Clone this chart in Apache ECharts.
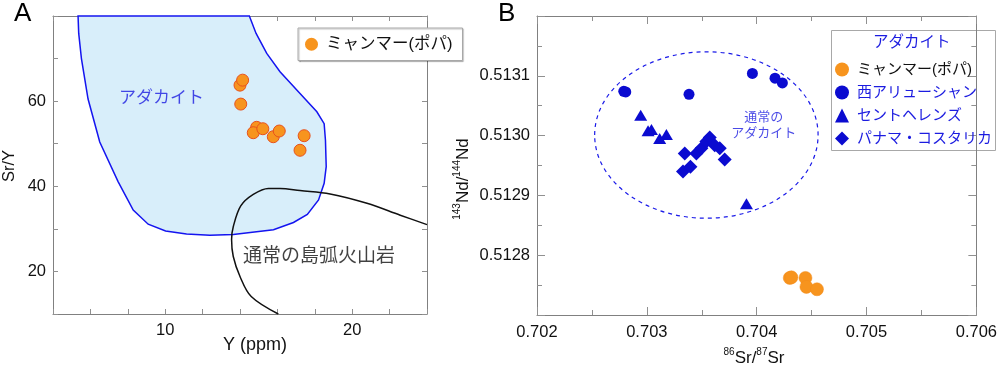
<!DOCTYPE html>
<html>
<head>
<meta charset="utf-8">
<script src="https://cdn.jsdelivr.net/npm/echarts@6/dist/echarts.min.js"></script>
<style>
html,body{margin:0;padding:0;background:#fff;}
#b{position:absolute;left:440px;top:0;width:560px;height:368px;}
#a{position:absolute;left:0;top:0;width:472px;height:368px;}
</style>
</head>
<body>
<div id="b"></div>
<div id="a"></div>
<script>
// ---------- Panel A data ----------
const adakiteFieldY   = [5.34,14.5,14.86,15.43,16.14,17.21,18.11,18.5,18.57,18.61,18.5,18.2,17.6,16.86,15.79,13.64,12.39,11.14,10.02,9.09,8.29,7.48,6.5,5.875,5.52,5.375];
const adakiteFieldSrY = [80,80,75.9,71.2,66.9,61.8,57.5,54.7,50.8,44.6,40.7,36.8,33.4,31.5,29.8,28.7,28.5,28.8,29.5,31.1,34.4,41.1,50.4,60.5,70,75.9];
const arcCurveY   = [16.05,14.6,14.0,13.64,13.55,13.64,14.04,14.71,15.52,16.14,17.21,18.82,20.79,22.57,24];
const arcCurveSrY = [10,14.1,18.8,23.5,27.5,30.5,35.4,38.1,39.5,39.5,39.0,38.2,36.0,33.2,31];
const myanmarY   = [14.0,14.14,14.04,14.89,14.71,15.22,15.78,16.1,17.43,17.21];
const myanmarSrY = [63.76,64.93,59.31,53.85,52.58,53.52,51.64,52.98,51.88,48.46];
const ticksA_x = [10,20];
const ticksA_y = [20,40,60];
const labelsA = [
  {text:'アダカイト', x:9.8, y:60.7, color:'#1c1ce0', size:17},
  {text:'通常の島弧火山岩', x:18.23, y:23.45, color:'#111', size:19}
];

// ---------- Panel B data ----------
const myanmarSr = [0.704301,0.704316,0.704444,0.704453,0.704549];
const myanmarNd = [0.512762,0.512763,0.512762,0.512747,0.512743];
const aleutSr = [0.70279,0.702808,0.703384,0.703961,0.704167,0.704234];
const aleutNd = [0.513074,0.513073,0.513069,0.513104,0.513096,0.513088];
const helensSr = [0.702944,0.703011,0.703042,0.703117,0.703178,0.703907];
const helensNd = [0.513034,0.513008,0.51301,0.512995,0.513002,0.512886];
const panamaSr = [0.703345,0.703329,0.703397,0.703451,0.703497,0.703542,0.703573,0.703618,0.703664,0.703709];
const panamaNd = [0.51297,0.51294,0.512948,0.51297,0.512979,0.51299,0.512997,0.512984,0.512979,0.51296];
const ellipseCenter = [0.703542, 0.513001];
const ellipseRadii  = [0.001017, 0.0001391];
const labelsB = [{text:'通常の\nアダカイト', x:0.704064, y:0.5130175}];

const FONT = "'Liberation Sans', Arimo, 'Noto Sans CJK JP', sans-serif";
const BLUE = '#0b0bd0';
const TBLUE = '#1c1ce0';
const ORANGE = '#f7941e';
const zip = (a,b) => a.map((v,i)=>[v,b[i]]);

function frameAxes(opts){
  const base = {
    type:'value', min:opts.min, max:opts.max, interval:opts.interval,
    splitLine:{show:false},
    axisLine:{show:true, onZero:false, lineStyle:{color:'#808080', width:1}},
    axisTick:{show:true, inside:true, length:opts.tickLen, lineStyle:{color:'#909090'}},
    minorTick: opts.minor ? {show:true, splitNumber:2, length:5, lineStyle:{color:'#909090'}} : {show:false},
    axisLabel:{show:true, fontFamily:FONT, fontSize:16.5, color:'#111', margin:opts.margin, formatter:opts.formatter}
  };
  const sec = JSON.parse(JSON.stringify(base));
  sec.axisLabel = {show:false};
  sec.position = opts.secPos;
  base.position = opts.pos;
  return [base, sec];
}

// ---------- Chart A ----------
const chartA = echarts.init(document.getElementById('a'), null, {renderer:'canvas'});
chartA.setOption({
  animation:false,
  textStyle:{fontFamily:FONT},
  grid:{left:53, top:16, width:374, height:298},
  xAxis: frameAxes({min:4,max:24,interval:2,tickLen:5,margin:8,pos:'bottom',secPos:'top',
    formatter:v=>ticksA_x.includes(Math.round(v))?String(Math.round(v)):''}),
  yAxis: frameAxes({min:10,max:80,interval:10,tickLen:5,margin:7,pos:'left',secPos:'right',
    formatter:v=>ticksA_y.includes(Math.round(v))?String(Math.round(v)):''}),
  legend:{
    data:['ミャンマー(ポパ)'], left:298, top:28, icon:'circle', itemWidth:13, itemHeight:13,
    padding:[8,10,8,7], backgroundColor:'#fff', borderColor:'#a8a8a8', borderWidth:1,
    shadowColor:'rgba(0,0,0,0.25)', shadowOffsetX:1, shadowOffsetY:1, shadowBlur:1,
    itemStyle:{borderWidth:0},
    textStyle:{fontFamily:FONT, fontSize:16.5, color:'#111', padding:[0,0,0,3]}
  },
  series:[
    {
      type:'custom', name:'adakite', silent:true, z:1,
      data:[[adakiteFieldY[0], adakiteFieldSrY[0]]],
      renderItem:(params, api)=>({
        type:'polygon',
        shape:{points: adakiteFieldY.map((x,i)=>api.coord([x, adakiteFieldSrY[i]]))},
        style:{fill:'#d8eefa', stroke:'#1414f0', lineWidth:1.5}
      })
    },
    {
      type:'line', name:'arc', data:zip(arcCurveY, arcCurveSrY), smooth:0.35,
      symbol:'none', silent:true, z:2,
      lineStyle:{color:'#111', width:1.5}
    },
    {
      type:'scatter', name:'ミャンマー(ポパ)', data:zip(myanmarY, myanmarSrY),
      symbol:'circle', symbolSize:12, z:5,
      itemStyle:{color:ORANGE, borderColor:'#e8521c', borderWidth:1, opacity:1}
    },
    {
      type:'scatter', name:'labels', silent:true, symbolSize:0, z:6,
      data: labelsA.map(l=>({value:[l.x,l.y], label:{show:true, position:'inside', formatter:l.text, color:l.color, fontSize:l.size, fontFamily:FONT}}))
    }
  ],
  graphic:[
    {type:'text', left:14, top:1, style:{text:'A', font:'26px '+FONT, fill:'#000'}},
    {type:'text', x:255, y:345, style:{text:'Y (ppm)', font:'18px '+FONT, fill:'#111', align:'center', verticalAlign:'middle'}},
    {type:'text', x:9, y:166, rotation:Math.PI/2, style:{text:'Sr/Y', font:'16.5px '+FONT, fill:'#111', align:'center', verticalAlign:'middle'}}
  ]
});

// ---------- Chart B ----------
const chartB = echarts.init(document.getElementById('b'), null, {renderer:'canvas'});
const supRich = {
  s:{fontSize:10, fontFamily:FONT, fill:'#111', verticalAlign:'top', lineHeight:19},
  n:{fontSize:17, fontFamily:FONT, fill:'#111', verticalAlign:'bottom', lineHeight:19}
};
chartB.setOption({
  animation:false,
  textStyle:{fontFamily:FONT},
  grid:{left:97, top:16, width:440, height:299},
  xAxis: frameAxes({min:0.702,max:0.706,interval:0.001,tickLen:8,minor:true,margin:9,pos:'bottom',secPos:'top',
    formatter:v=>v.toFixed(3)}),
  yAxis: frameAxes({min:0.5127,max:0.5132,interval:0.0001,tickLen:8,minor:true,margin:7,pos:'left',secPos:'right',
    formatter:v=>(Math.abs(v-0.5127)<1e-8||Math.abs(v-0.5132)<1e-8)?'':v.toFixed(4)}),
  legend:{
    orient:'vertical', left:395, top:62, itemWidth:14, itemHeight:14, itemGap:8,
    padding:0, z:10,
    itemStyle:{borderWidth:0},
    textStyle:{fontFamily:FONT, fontSize:15, lineHeight:15, padding:[0,0,0,3]},
    data:[
      {name:'ミャンマー(ポパ)', textStyle:{color:'#111'}},
      {name:'西アリューシャン', textStyle:{color:TBLUE}},
      {name:'セントヘレンズ', textStyle:{color:TBLUE}},
      {name:'パナマ・コスタリカ', textStyle:{color:TBLUE}}
    ]
  },
  series:[
    {
      type:'custom', name:'ellipse', silent:true, z:1,
      data:[ellipseCenter],
      renderItem:(params, api)=>{
        const c = api.coord(ellipseCenter);
        const s = api.size(ellipseRadii, ellipseCenter);
        return {type:'ellipse', shape:{cx:c[0], cy:c[1], rx:s[0], ry:s[1]},
          style:{fill:null, stroke:'#1a1ae8', lineWidth:1.2, lineDash:[4,4]}};
      }
    },
    {type:'scatter', name:'ミャンマー(ポパ)', data:zip(myanmarSr, myanmarNd), symbol:'circle', symbolSize:13, z:5,
      itemStyle:{color:ORANGE, borderColor:'#f38a1a', borderWidth:0.5, opacity:1}},
    {type:'scatter', name:'西アリューシャン', data:zip(aleutSr, aleutNd), symbol:'circle', symbolSize:11, z:5,
      itemStyle:{color:BLUE, opacity:1}},
    {type:'scatter', name:'セントヘレンズ', data:zip(helensSr, helensNd), symbol:'triangle', symbolSize:[13,11], z:5,
      itemStyle:{color:BLUE, opacity:1}},
    {type:'scatter', name:'パナマ・コスタリカ', data:zip(panamaSr, panamaNd), symbol:'diamond', symbolSize:14, z:5,
      itemStyle:{color:BLUE, opacity:1}},
    {
      type:'scatter', name:'labelsB', silent:true, symbolSize:0, z:6,
      data: labelsB.map(l=>({value:[l.x,l.y], label:{show:true, position:'inside', formatter:l.text, color:TBLUE, fontSize:13, lineHeight:16, fontFamily:FONT, align:'center'}}))
    }
  ],
  graphic:[
    {type:'text', left:58, top:1, style:{text:'B', font:'26px '+FONT, fill:'#000'}},
    {type:'rect', z:0, shape:{x:391.5, y:30.5, width:164, height:120}, style:{fill:'#fff', stroke:'#a8a8a8', lineWidth:1}},
    {type:'text', z:2, x:471.7, y:42.7, style:{text:'アダカイト', font:'15.5px '+FONT, fill:TBLUE, align:'center', verticalAlign:'middle'}},
    {type:'text', x:314, y:357, style:{text:'{s|86}{n|Sr/}{s|87}{n|Sr}', rich:supRich, align:'center', verticalAlign:'middle'}},
    {type:'text', x:22, y:179, rotation:Math.PI/2, style:{text:'{s|143}{n|Nd/}{s|144}{n|Nd}', rich:supRich, align:'center', verticalAlign:'middle'}}
  ]
});
</script>
</body>
</html>
